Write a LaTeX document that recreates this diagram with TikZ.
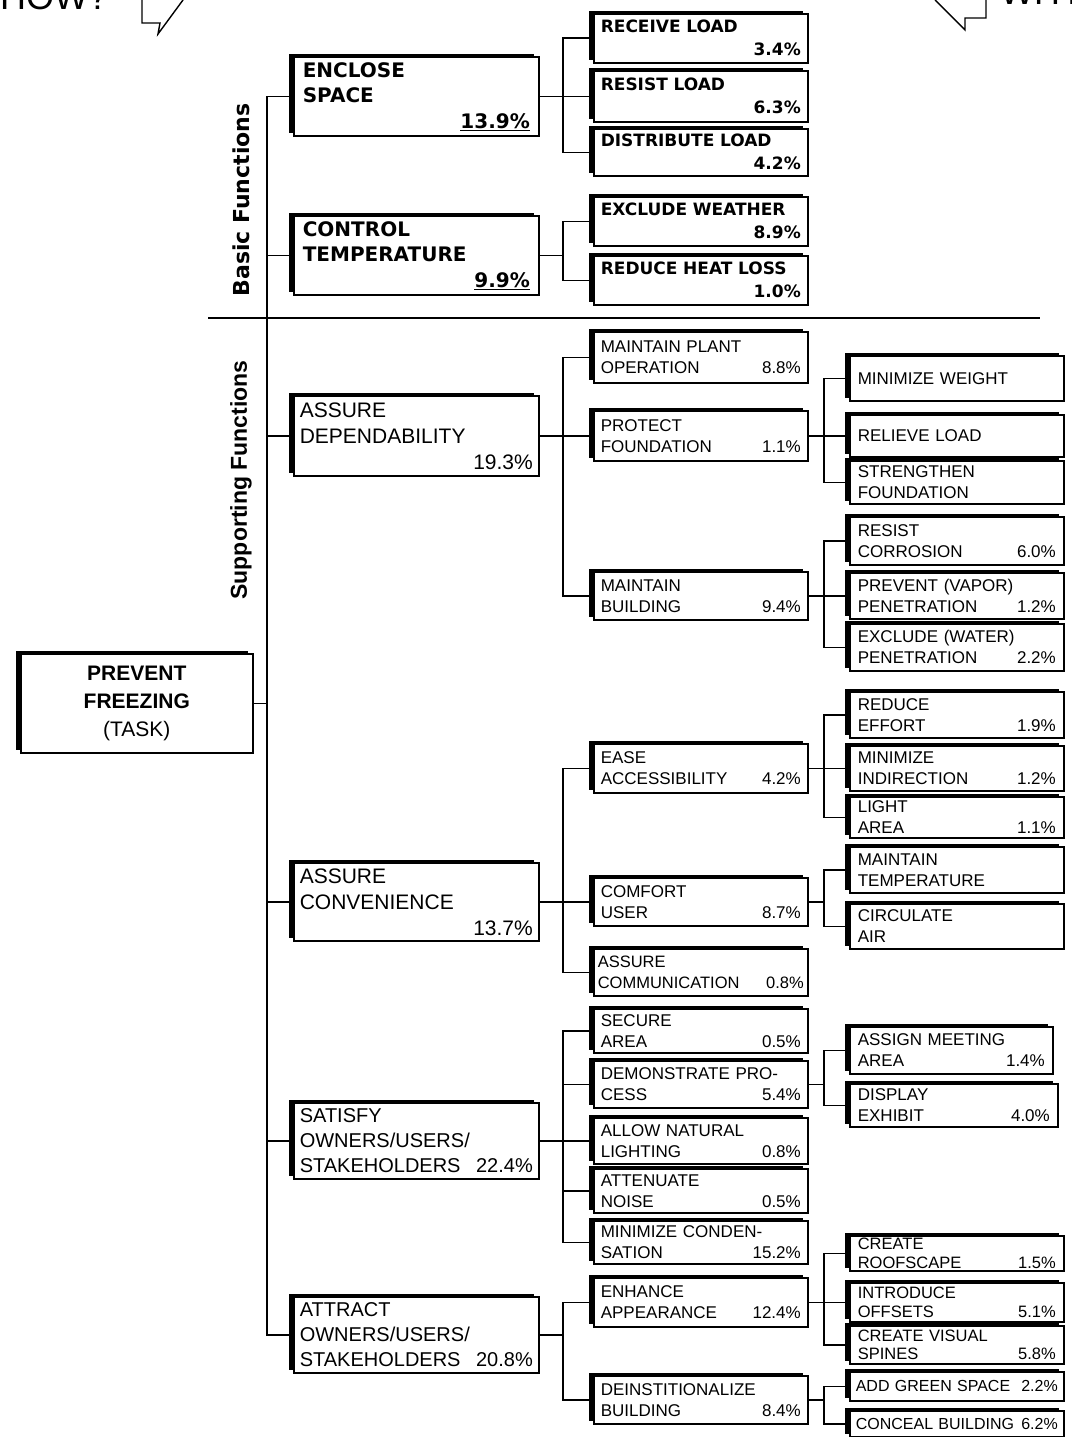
\documentclass[tikz,border=0pt]{standalone}
\usepackage{fontspec}
\setmainfont{Liberation Sans}
\newfontfamily\heavyfont{DejaVu Sans}
\usetikzlibrary{shadows}
\newcommand\pct[1]{\hspace*{0pt plus 1filll}#1}
\tikzset{
  wire/.style={line width=1.6pt},
  fbox/.style={draw, line width=1.6pt, fill=white, anchor=north west, inner ysep=2pt, align=left,
    drop shadow={shadow xshift=-5pt, shadow yshift=3pt, fill=black, opacity=1}},
  topbox/.style={fbox, inner xsep=6pt, minimum width=245pt, text width=233pt, font=\fontsize{21}{26}\selectfont},
  ownerbox/.style={topbox, font=\fontsize{20}{25}\selectfont},
  basicbox/.style={topbox, inner xsep=9pt, text width=227pt, font=\heavyfont\bfseries\fontsize{20}{25.5}\selectfont},
  midbox/.style={fbox, inner xsep=7pt, minimum width=214pt, text width=200pt, font=\fontsize{17}{21}\selectfont},
  basicsub/.style={midbox, font=\heavyfont\bfseries\fontsize{17}{23}\selectfont},
  endbox/.style={midbox, inner xsep=8pt, text width=198pt},
  tinybox/.style={endbox, inner ysep=1pt, font=\fontsize{16.5}{18.5}\selectfont},
  onelinebox/.style={midbox, inner xsep=6pt, text width=202pt, font=\fontsize{16}{19}\selectfont}
}

\begin{document}
\begin{tikzpicture}[x=1pt, y=-1pt]
	\useasboundingbox (0,0) rectangle (1071,1437);
	\clip (0,0) rectangle (1071,1437);

	\node[anchor=base west, inner sep=0, font=\fontsize{36}{40}\selectfont] (how) at (0,10) {HOW?};
	\node[anchor=base west, inner sep=0, font=\fontsize{36}{40}\selectfont] (why) at (1000,5) {WHY?};
	\draw[line width=1.4pt] (142,0) -- (142,23) -- (160,23) -- (158,34) -- (183,0);
	\draw[line width=1.4pt] (935,0) -- (965,30) -- (965,18) -- (986,18) -- (986,0);

	\draw[line width=2pt] (208,318) -- (1040,318);
	\node[rotate=90, font=\heavyfont\bfseries\fontsize{22}{26}\selectfont] (basic) at (241,200) {Basic Functions};
	\node[rotate=90, font=\bfseries\fontsize{23}{27}\selectfont] (support) at (241,480) {Supporting Functions};

	\coordinate (spine) at (267,0);
	\coordinate (fork2) at (563,0);
	\coordinate (fork3) at (824,0);

	\node[fbox, inner xsep=6pt, minimum width=232pt, minimum height=99pt, text width=220pt, align=center, font=\bfseries\fontsize{21}{28}\selectfont] (task) at (20,653) {PREVENT\\FREEZING\\{\mdseries (TASK)}};

	\node[basicbox, minimum height=79pt] (enclose) at (293,56) {ENCLOSE\\SPACE\\\pct{\underline{13.9\%}}};
	\node[basicbox, minimum height=79pt] (control) at (293,215) {CONTROL\\TEMPERATURE\\\pct{\underline{9.9\%}}};
	\node[topbox, minimum height=80pt] (depend) at (293,395) {ASSURE\\DEPENDABILITY\\\pct{19.3\%}};
	\node[topbox, minimum height=78pt] (conven) at (293,862) {ASSURE\\CONVENIENCE\\\pct{13.7\%}};
	\node[ownerbox, minimum height=76pt] (satisfy) at (293,1102) {SATISFY\\OWNERS/USERS/\\STAKEHOLDERS\pct{22.4\%}};
	\node[ownerbox, minimum height=76pt] (attract) at (293,1296) {ATTRACT\\OWNERS/USERS/\\STAKEHOLDERS\pct{20.8\%}};

	\node[basicsub, minimum height=49pt] (receive) at (593,13) {RECEIVE LOAD\\\pct{3.4\%}};
	\node[basicsub, minimum height=51pt] (resist) at (593,70) {RESIST LOAD\\\pct{6.3\%}};
	\node[basicsub, minimum height=47pt] (distrib) at (593,128) {DISTRIBUTE LOAD\\\pct{4.2\%}};
	\node[basicsub, minimum height=49pt] (weather) at (593,196) {EXCLUDE WEATHER\\\pct{8.9\%}};
	\node[basicsub, minimum height=49pt] (heatloss) at (593,255) {REDUCE HEAT LOSS\\\pct{1.0\%}};

	\node[midbox, minimum height=51pt] (plant) at (593,331) {MAINTAIN PLANT\\OPERATION\pct{8.8\%}};
	\node[midbox, minimum height=50pt] (protect) at (593,410) {PROTECT\\FOUNDATION\pct{1.1\%}};
	\node[midbox, minimum height=48pt] (maintbldg) at (593,571) {MAINTAIN\\BUILDING\pct{9.4\%}};
	\node[midbox, minimum height=49pt] (ease) at (593,743) {EASE\\ACCESSIBILITY\pct{4.2\%}};
	\node[midbox, minimum height=48pt] (comfort) at (593,877) {COMFORT\\USER\pct{8.7\%}};
	\node[midbox, minimum height=47pt, inner xsep=4pt, text width=206pt, font=\fontsize{16.5}{20.5}\selectfont] (commun) at (593,948) {ASSURE\\COMMUNICATION\pct{0.8\%}};
	\node[midbox, minimum height=44pt] (secure) at (593,1008) {SECURE\\AREA\pct{0.5\%}};
	\node[midbox, minimum height=47pt] (demo) at (593,1060) {DEMONSTRATE PRO-\\CESS\pct{5.4\%}};
	\node[midbox, minimum height=46pt] (daylight) at (593,1117) {ALLOW NATURAL\\LIGHTING\pct{0.8\%}};
	\node[midbox, minimum height=44pt] (noise) at (593,1168) {ATTENUATE\\NOISE\pct{0.5\%}};
	\node[midbox, minimum height=43pt] (conden) at (593,1220) {MINIMIZE CONDEN-\\SATION\pct{15.2\%}};
	\node[midbox, minimum height=49pt] (enhance) at (593,1277) {ENHANCE\\APPEARANCE\pct{12.4\%}};
	\node[midbox, minimum height=48pt] (deinst) at (593,1375) {DEINSTITIONALIZE\\BUILDING\pct{8.4\%}};

	\node[endbox, minimum height=45pt] (weight) at (849,355) {MINIMIZE WEIGHT};
	\node[endbox, minimum height=42pt] (relieve) at (849,414) {RELIEVE LOAD};
	\node[endbox, minimum height=43pt] (strength) at (849,460) {STRENGTHEN\\FOUNDATION};
	\node[endbox, minimum height=48pt] (corrosion) at (849,516) {RESIST\\CORROSION\pct{6.0\%}};
	\node[endbox, minimum height=46pt] (vapor) at (849,572) {PREVENT (VAPOR)\\PENETRATION\pct{1.2\%}};
	\node[endbox, minimum height=47pt] (water) at (849,623) {EXCLUDE (WATER)\\PENETRATION\pct{2.2\%}};
	\node[endbox, minimum height=46pt] (effort) at (849,691) {REDUCE\\EFFORT\pct{1.9\%}};
	\node[endbox, minimum height=45pt] (indirect) at (849,745) {MINIMIZE\\INDIRECTION\pct{1.2\%}};
	\node[endbox, minimum height=41pt] (lightarea) at (849,796) {LIGHT\\AREA\pct{1.1\%}};
	\node[endbox, minimum height=46pt] (temp) at (849,846) {MAINTAIN\\TEMPERATURE};
	\node[endbox, minimum height=45pt] (circulate) at (849,903) {CIRCULATE\\AIR};
	\node[endbox, minimum height=47pt, minimum width=203pt, text width=187pt] (meeting) at (849,1026) {ASSIGN MEETING\\AREA\pct{1.4\%}};
	\node[endbox, minimum height=43pt, minimum width=208pt, text width=192pt] (exhibit) at (849,1083) {DISPLAY\\EXHIBIT\pct{4.0\%}};
	\node[tinybox, minimum height=35pt] (roof) at (849,1235) {CREATE\\ROOFSCAPE\pct{1.5\%}};
	\node[tinybox, minimum height=39pt] (offsets) at (849,1282) {INTRODUCE\\OFFSETS\pct{5.1\%}};
	\node[tinybox, minimum height=38pt] (spines) at (849,1325) {CREATE VISUAL\\SPINES\pct{5.8\%}};
	\node[onelinebox, minimum height=29pt] (green) at (849,1371) {ADD GREEN SPACE\pct{2.2\%}};
	\node[onelinebox, minimum height=26pt] (conceal) at (849,1410) {CONCEAL BUILDING\pct{6.2\%}};

	\draw[wire] (task.east) -- (task.east -| spine) |- (enclose.west);
	\draw[wire] (task.east) -- (task.east -| spine) |- (control.west);
	\draw[wire] (task.east) -- (task.east -| spine) |- (depend.west);
	\draw[wire] (task.east) -- (task.east -| spine) |- (conven.west);
	\draw[wire] (task.east) -- (task.east -| spine) |- (satisfy.west);
	\draw[wire] (task.east) -- (task.east -| spine) |- (attract.west);

	\draw[wire] (enclose.east) -- (enclose.east -| fork2) |- (receive.west);
	\draw[wire] (enclose.east) -- (enclose.east -| fork2) |- (resist.west);
	\draw[wire] (enclose.east) -- (enclose.east -| fork2) |- (distrib.west);
	\draw[wire] (control.east) -- (control.east -| fork2) |- (weather.west);
	\draw[wire] (control.east) -- (control.east -| fork2) |- (heatloss.west);
	\draw[wire] (depend.east) -- (depend.east -| fork2) |- (plant.west);
	\draw[wire] (depend.east) -- (depend.east -| fork2) |- (protect.west);
	\draw[wire] (depend.east) -- (depend.east -| fork2) |- (maintbldg.west);
	\draw[wire] (conven.east) -- (conven.east -| fork2) |- (ease.west);
	\draw[wire] (conven.east) -- (conven.east -| fork2) |- (comfort.west);
	\draw[wire] (conven.east) -- (conven.east -| fork2) |- (commun.west);
	\draw[wire] (satisfy.east) -- (satisfy.east -| fork2) |- (secure.west);
	\draw[wire] (satisfy.east) -- (satisfy.east -| fork2) |- (demo.west);
	\draw[wire] (satisfy.east) -- (satisfy.east -| fork2) |- (daylight.west);
	\draw[wire] (satisfy.east) -- (satisfy.east -| fork2) |- (noise.west);
	\draw[wire] (satisfy.east) -- (satisfy.east -| fork2) |- (conden.west);
	\draw[wire] (attract.east) -- (attract.east -| fork2) |- (enhance.west);
	\draw[wire] (attract.east) -- (attract.east -| fork2) |- (deinst.west);

	\draw[wire] (protect.east) -- (protect.east -| fork3) |- (weight.west);
	\draw[wire] (protect.east) -- (protect.east -| fork3) |- (relieve.west);
	\draw[wire] (protect.east) -- (protect.east -| fork3) |- (strength.west);
	\draw[wire] (maintbldg.east) -- (maintbldg.east -| fork3) |- (corrosion.west);
	\draw[wire] (maintbldg.east) -- (maintbldg.east -| fork3) |- (vapor.west);
	\draw[wire] (maintbldg.east) -- (maintbldg.east -| fork3) |- (water.west);
	\draw[wire] (ease.east) -- (ease.east -| fork3) |- (effort.west);
	\draw[wire] (ease.east) -- (ease.east -| fork3) |- (indirect.west);
	\draw[wire] (ease.east) -- (ease.east -| fork3) |- (lightarea.west);
	\draw[wire] (comfort.east) -- (comfort.east -| fork3) |- (temp.west);
	\draw[wire] (comfort.east) -- (comfort.east -| fork3) |- (circulate.west);
	\draw[wire] (demo.east) -- (demo.east -| fork3) |- (meeting.west);
	\draw[wire] (demo.east) -- (demo.east -| fork3) |- (exhibit.west);
	\draw[wire] (enhance.east) -- (enhance.east -| fork3) |- (roof.west);
	\draw[wire] (enhance.east) -- (enhance.east -| fork3) |- (offsets.west);
	\draw[wire] (enhance.east) -- (enhance.east -| fork3) |- (spines.west);
	\draw[wire] (deinst.east) -- (deinst.east -| fork3) |- (green.west);
	\draw[wire] (deinst.east) -- (deinst.east -| fork3) |- (conceal.west);
\end{tikzpicture}
\end{document}
